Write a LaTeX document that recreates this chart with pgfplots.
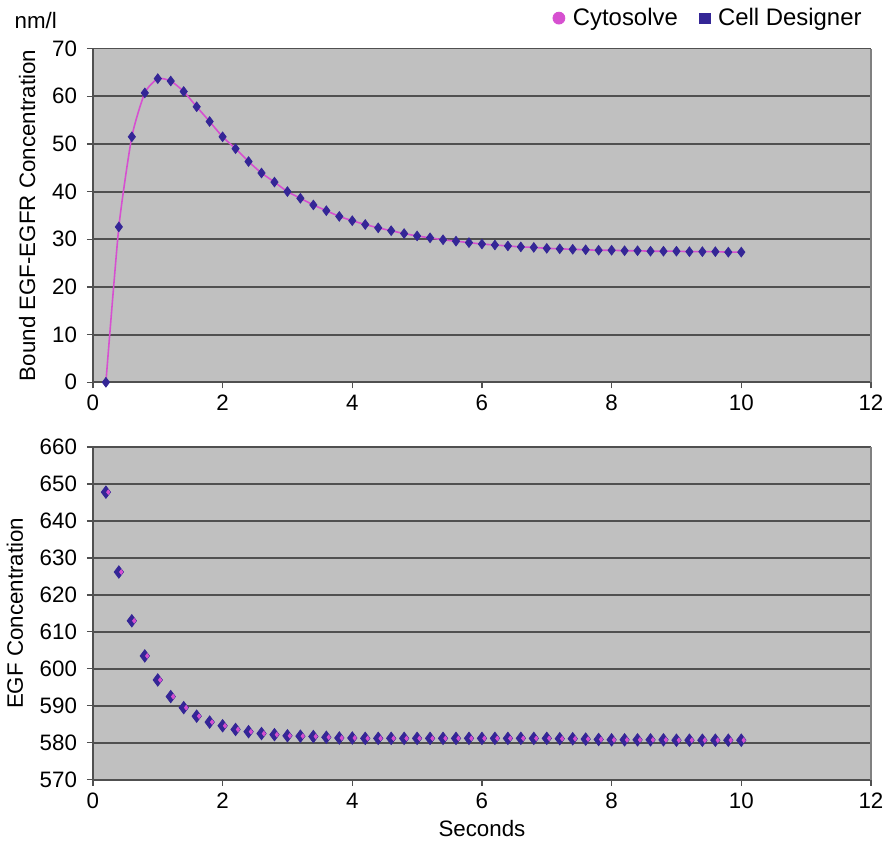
\documentclass[border=0pt]{standalone}
\usepackage{fontspec}
\setmainfont{Liberation Sans}
\usepackage{pgfplots}
\pgfplotsset{compat=1.18}
\usepackage{pgfplotstable}

\definecolor{plotbg}{RGB}{192,192,192}
\definecolor{gridc}{RGB}{80,80,80}
\definecolor{cyto}{RGB}{214,80,208}
\definecolor{celld}{RGB}{52,38,150}

% time (s), bound EGF-EGFR, free EGF
\pgfplotstableread{
t    bound  egf
0.2  0.0    647.8
0.4  32.6   626.2
0.6  51.5   613.0
0.8  60.7   603.5
1.0  63.7   597.0
1.2  63.2   592.5
1.4  61.0   589.5
1.6  57.8   587.2
1.8  54.7   585.6
2.0  51.5   584.6
2.2  49.0   583.6
2.4  46.3   583.0
2.6  43.9   582.5
2.8  42.0   582.2
3.0  40.0   581.9
3.2  38.6   581.8
3.4  37.2   581.7
3.6  36.0   581.5
3.8  34.8   581.3
4.0  33.9   581.3
4.2  33.1   581.2
4.4  32.4   581.2
4.6  31.8   581.2
4.8  31.2   581.2
5.0  30.7   581.2
5.2  30.3   581.2
5.4  29.9   581.2
5.6  29.6   581.2
5.8  29.3   581.2
6.0  29.0   581.2
6.2  28.8   581.2
6.4  28.6   581.2
6.6  28.4   581.2
6.8  28.3   581.2
7.0  28.1   581.2
7.2  28.0   581.1
7.4  27.9   581.1
7.6  27.8   581.0
7.8  27.7   580.9
8.0  27.7   580.8
8.2  27.6   580.8
8.4  27.6   580.8
8.6  27.5   580.8
8.8  27.5   580.8
9.0  27.5   580.7
9.2  27.4   580.7
9.4  27.4   580.7
9.6  27.4   580.7
9.8  27.3   580.7
10.0 27.3   580.7
}\datatab

\pgfplotsset{
  panel/.style={
    scale only axis,
    width=390.5pt,
    xmin=0, xmax=12,
    xtick={0,2,...,12},
    axis x line*=bottom,
    axis y line*=left,
    axis line style={gridc, line width=0.9pt},
    axis background/.style={fill=plotbg},
    ymajorgrids,
    grid style={gridc, line width=0.9pt},
    tick align=outside,
    major tick length=3pt,
    tick style={gridc, line width=0.6pt},
    /pgf/number format/assume math mode=true,
    ticklabel style={font=\fontsize{11.2}{13}\selectfont},
    yticklabel style={xshift=-1.5pt},
    label style={font=\fontsize{11.2}{13}\selectfont},
    ylabel shift=1.5pt,
    after end axis/.code={\draw[gray, line width=0.9pt] (rel axis cs:1,0) -- (rel axis cs:1,1);},
  },
}

\begin{document}
\begin{tikzpicture}
\begin{axis}[panel,
    name=top,
    height=167.5pt,
    ymin=0, ymax=70, ytick={0,10,...,70},
    ylabel={Bound EGF-EGFR Concentration},
    legend columns=2,
    legend style={at={(rel axis cs:1,1)}, anchor=south east, yshift=6pt, xshift=0.5pt,
      draw=none, fill=none, font=\fontsize{12}{14}\selectfont,
      /tikz/every odd column/.append style={column sep=2pt},
      /tikz/every even column/.append style={column sep=9pt}},
  ]
\addlegendimage{only marks, mark=*, mark size=3pt, color=cyto, mark options={draw=none, fill=cyto}}
\addlegendentry{Cytosolve}
\addlegendimage{only marks, mark=square*, mark size=2.6pt, color=celld, mark options={draw=none, fill=celld}}
\addlegendentry{Cell Designer}
\addplot[cyto, line width=0.8pt, smooth, tension=0.35, forget plot] table[x=t, y=bound] {\datatab};
\addplot[only marks, color=celld, mark=diamond*, mark size=2.4pt, mark options={draw=none, fill=celld}, forget plot] table[x=t, y=bound] {\datatab};
\end{axis}
\node[anchor=south west, font=\fontsize{11.2}{13}\selectfont, inner sep=0pt] at ([xshift=-39.5pt, yshift=10pt]top.north west) {nm/l};

\begin{axis}[panel,
    at={(top.south west)}, anchor=north west, yshift=-32.5pt,
    height=167pt,
    ymin=570, ymax=660, ytick={570,580,...,660},
    ylabel={EGF Concentration},
    xlabel={Seconds},
    xlabel style={yshift=1pt},
  ]
\addplot[only marks, color=celld, mark=diamond*, mark size=3.1pt, mark options={draw=none, fill=celld}] table[x=t, y=egf] {\datatab};
\addplot[only marks, color=cyto, mark=diamond*, mark size=1.1pt, mark options={draw=none, fill=cyto, xshift=1.2pt}] table[x=t, y=egf] {\datatab};
\end{axis}
\end{tikzpicture}
\end{document}
